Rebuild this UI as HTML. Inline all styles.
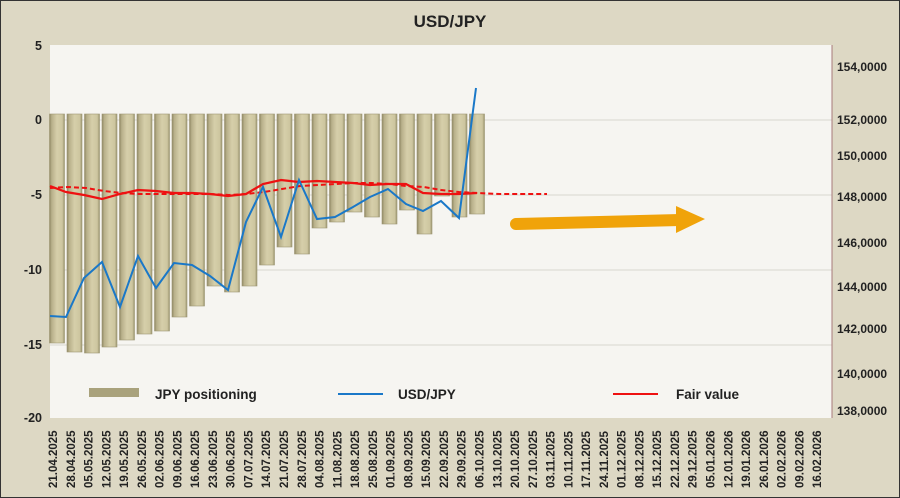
<!DOCTYPE html>
<html><head><meta charset="utf-8"><style>
html,body{margin:0;padding:0;background:#ddd8c4}
svg{display:block}
text{font-family:"Liberation Sans",sans-serif;font-weight:bold;fill:#222}
</style></head><body>
<svg width="900" height="498" viewBox="0 0 900 498" xmlns="http://www.w3.org/2000/svg">
<defs>
<linearGradient id="bar" x1="0" x2="1" y1="0" y2="0">
<stop offset="0" stop-color="#8e8762"/><stop offset="0.15" stop-color="#b8b08a"/><stop offset="0.5" stop-color="#d6cfaa"/><stop offset="0.85" stop-color="#cdc6a0"/><stop offset="1" stop-color="#9a936e"/>
</linearGradient>
</defs>
<rect x="0" y="0" width="900" height="498" fill="#ddd8c4"/>
<rect x="0.5" y="0.5" width="899" height="497" fill="none" stroke="#333" stroke-width="1"/>
<text x="450" y="27" font-size="17" text-anchor="middle">USD/JPY</text>
<rect x="50" y="45" width="782" height="373" fill="#f6f5f1"/>
<g stroke="#d8d6cf" stroke-width="1">
<line x1="50" x2="832" y1="120" y2="120"/><line x1="50" x2="832" y1="195" y2="195"/>
<line x1="50" x2="832" y1="270" y2="270"/><line x1="50" x2="832" y1="345" y2="345"/>
</g>
<line x1="832" x2="832" y1="45" y2="418" stroke="#a87a7a"/>
<g font-size="12.5">
<text x="42" y="50" text-anchor="end">5</text>
<text x="42" y="124" text-anchor="end">0</text>
<text x="42" y="199" text-anchor="end">-5</text>
<text x="42" y="274" text-anchor="end">-10</text>
<text x="42" y="349" text-anchor="end">-15</text>
<text x="42" y="422" text-anchor="end">-20</text>
</g>
<g font-size="12">
<text x="837" y="71">154,0000</text><text x="837" y="124">152,0000</text>
<text x="837" y="160">150,0000</text><text x="837" y="201">148,0000</text>
<text x="837" y="247">146,0000</text><text x="837" y="291">144,0000</text>
<text x="837" y="333">142,0000</text><text x="837" y="378">140,0000</text>
<text x="837" y="415">138,0000</text>
</g>
<g fill="url(#bar)" stroke="#9d9673" stroke-width="0.6">
<rect x="49.5" y="114" width="15" height="229"/>
<rect x="67" y="114" width="15" height="238"/>
<rect x="84.5" y="114" width="15" height="239"/>
<rect x="102" y="114" width="15" height="233"/>
<rect x="119.5" y="114" width="15" height="226"/>
<rect x="137" y="114" width="15" height="220"/>
<rect x="154.5" y="114" width="15" height="217"/>
<rect x="172" y="114" width="15" height="203"/>
<rect x="189.5" y="114" width="15" height="192"/>
<rect x="207" y="114" width="15" height="172"/>
<rect x="224.5" y="114" width="15" height="178"/>
<rect x="242" y="114" width="15" height="172"/>
<rect x="259.5" y="114" width="15" height="151"/>
<rect x="277" y="114" width="15" height="133"/>
<rect x="294.5" y="114" width="15" height="140"/>
<rect x="312" y="114" width="15" height="114"/>
<rect x="329.5" y="114" width="15" height="108"/>
<rect x="347" y="114" width="15" height="98"/>
<rect x="364.5" y="114" width="15" height="103"/>
<rect x="382" y="114" width="15" height="110"/>
<rect x="399.5" y="114" width="15" height="96"/>
<rect x="417" y="114" width="15" height="120"/>
<rect x="434.5" y="114" width="15" height="82"/>
<rect x="452" y="114" width="15" height="103"/>
<rect x="469.5" y="114" width="15" height="100"/>
</g>
<polyline fill="none" stroke="#ee1111" stroke-width="2" stroke-dasharray="5,3" points="50,188 68,187 86,188 104,191 122,193 139,194 157,194 175,194 193,194 211,194 229,195 246,194 264,192 282,189 300,186 318,185 336,184 354,183 371,183 389,184 406,186 424,187 441,190 459,192 477,193 500,194 520,194 547,194"/>
<polyline fill="none" stroke="#ee1111" stroke-width="2.2" points="50,186 66,192 84,195 102,199 120,194 138,190 156,191 174,193 192,193 210,194 228,196 246,194 263,184 281,180 299,182 317,181 335,182 353,183 370,185 388,184 406,184 423,193 441,194 459,194 477,193"/>
<polyline fill="none" stroke="#1a78c8" stroke-width="2" points="50,316 66,317 84,278 102,262 120,307 138,256 156,288 174,263 192,265 210,276 228,290 246,222 263,187 281,237 299,180 317,219 335,217 353,207 370,197 388,189 406,204 423,211 441,201 459,218 476,88"/>
<line x1="516" y1="224" x2="680" y2="220" stroke="#f0a30a" stroke-width="12" stroke-linecap="round"/>
<polygon points="676,206 705,219 676,233" fill="#f0a30a"/>
<rect x="89" y="388" width="50" height="9" fill="#a9a27c"/>
<text x="155" y="399" font-size="13.5">JPY positioning</text>
<line x1="338" x2="383" y1="394" y2="394" stroke="#1a78c8" stroke-width="2"/>
<text x="398" y="399" font-size="13.5">USD/JPY</text>
<line x1="613" x2="658" y1="394" y2="394" stroke="#ee1111" stroke-width="2"/>
<text x="676" y="399" font-size="13.5">Fair value</text>
<g font-size="11.5">
<text transform="translate(57,488) rotate(-90)">21.04.2025</text>
<text transform="translate(74.8,488) rotate(-90)">28.04.2025</text>
<text transform="translate(92.5,488) rotate(-90)">05.05.2025</text>
<text transform="translate(110.3,488) rotate(-90)">12.05.2025</text>
<text transform="translate(128.1,488) rotate(-90)">19.05.2025</text>
<text transform="translate(145.9,488) rotate(-90)">26.05.2025</text>
<text transform="translate(163.6,488) rotate(-90)">02.06.2025</text>
<text transform="translate(181.4,488) rotate(-90)">09.06.2025</text>
<text transform="translate(199.2,488) rotate(-90)">16.06.2025</text>
<text transform="translate(216.9,488) rotate(-90)">23.06.2025</text>
<text transform="translate(234.7,488) rotate(-90)">30.06.2025</text>
<text transform="translate(252.5,488) rotate(-90)">07.07.2025</text>
<text transform="translate(270.2,488) rotate(-90)">14.07.2025</text>
<text transform="translate(288,488) rotate(-90)">21.07.2025</text>
<text transform="translate(305.8,488) rotate(-90)">28.07.2025</text>
<text transform="translate(323.6,488) rotate(-90)">04.08.2025</text>
<text transform="translate(341.3,488) rotate(-90)">11.08.2025</text>
<text transform="translate(359.1,488) rotate(-90)">18.08.2025</text>
<text transform="translate(376.9,488) rotate(-90)">25.08.2025</text>
<text transform="translate(394.6,488) rotate(-90)">01.09.2025</text>
<text transform="translate(412.4,488) rotate(-90)">08.09.2025</text>
<text transform="translate(430.2,488) rotate(-90)">15.09.2025</text>
<text transform="translate(447.9,488) rotate(-90)">22.09.2025</text>
<text transform="translate(465.7,488) rotate(-90)">29.09.2025</text>
<text transform="translate(483.5,488) rotate(-90)">06.10.2025</text>
<text transform="translate(501.3,488) rotate(-90)">13.10.2025</text>
<text transform="translate(519,488) rotate(-90)">20.10.2025</text>
<text transform="translate(536.8,488) rotate(-90)">27.10.2025</text>
<text transform="translate(554.6,488) rotate(-90)">03.11.2025</text>
<text transform="translate(572.3,488) rotate(-90)">10.11.2025</text>
<text transform="translate(590.1,488) rotate(-90)">17.11.2025</text>
<text transform="translate(607.9,488) rotate(-90)">24.11.2025</text>
<text transform="translate(625.6,488) rotate(-90)">01.12.2025</text>
<text transform="translate(643.4,488) rotate(-90)">08.12.2025</text>
<text transform="translate(661.2,488) rotate(-90)">15.12.2025</text>
<text transform="translate(679,488) rotate(-90)">22.12.2025</text>
<text transform="translate(696.7,488) rotate(-90)">29.12.2025</text>
<text transform="translate(714.5,488) rotate(-90)">05.01.2026</text>
<text transform="translate(732.3,488) rotate(-90)">12.01.2026</text>
<text transform="translate(750,488) rotate(-90)">19.01.2026</text>
<text transform="translate(767.8,488) rotate(-90)">26.01.2026</text>
<text transform="translate(785.6,488) rotate(-90)">02.02.2026</text>
<text transform="translate(803.3,488) rotate(-90)">09.02.2026</text>
<text transform="translate(821.1,488) rotate(-90)">16.02.2026</text>
</g>
</svg>
</body></html>
